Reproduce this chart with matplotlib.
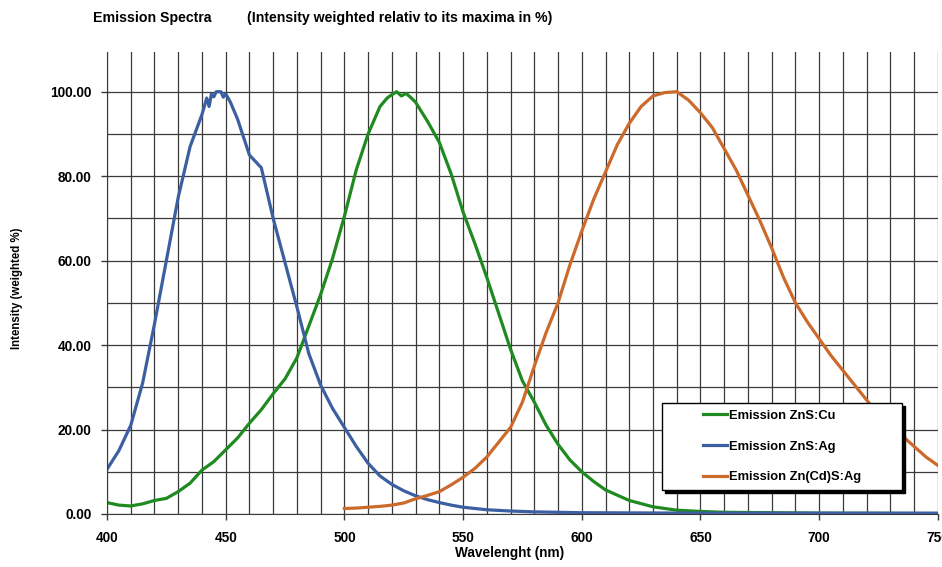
import matplotlib
matplotlib.use("Agg")
import matplotlib.pyplot as plt
from matplotlib.patches import Rectangle
from matplotlib.ticker import MultipleLocator, FormatStrFormatter

plt.rcParams["font.family"] = ["Liberation Sans", "DejaVu Sans"]
plt.rcParams["font.weight"] = "bold"

# ZnS:Cu (green)
wl_cu = [400, 405, 410, 415, 420, 425, 430, 435, 440, 445, 450, 455, 460, 465,
         470, 475, 480, 485, 490, 495, 500, 505, 510, 515, 518, 520, 522, 524,
         526, 528, 530, 535, 540, 545, 550, 555, 560, 565, 570, 575, 580, 585,
         590, 595, 600, 605, 610, 620, 630, 640, 650, 660, 680, 700, 750]
int_cu = [2.7, 2.1, 1.9, 2.4, 3.2, 3.7, 5.3, 7.3, 10.4, 12.4, 15.2, 18.0, 21.5, 24.7,
          28.5, 32.0, 37.0, 44.5, 52.0, 60.5, 70.5, 81.5, 90.0, 96.5, 98.5, 99.3, 100.0, 99.0,
          99.6, 98.6, 97.5, 93.0, 88.0, 80.5, 71.5, 64.0, 56.0, 47.5, 39.0, 31.5, 26.5, 21.0,
          16.5, 12.8, 10.0, 7.7, 5.7, 3.2, 1.7, 0.9, 0.6, 0.4, 0.3, 0.2, 0.1]

# ZnS:Ag (blue)
wl_ag = [400, 405, 410, 415, 420, 425, 430, 435, 440, 442, 443, 444, 445, 446,
         448, 449, 450, 452, 455, 460, 465, 470, 475, 480, 485, 490, 495, 500,
         505, 510, 515, 520, 525, 530, 535, 540, 545, 550, 560, 570, 580, 600,
         650, 700, 750]
int_ag = [10.6, 15.0, 21.0, 31.0, 45.0, 60.0, 75.0, 87.0, 94.6, 98.5, 96.5, 99.5, 98.8, 100.0,
          100.0, 98.7, 99.5, 97.5, 93.5, 85.0, 82.0, 70.0, 59.5, 49.0, 38.0, 30.5, 25.0, 20.5,
          16.0, 12.0, 9.0, 7.0, 5.5, 4.3, 3.4, 2.7, 2.1, 1.6, 1.0, 0.7, 0.5, 0.3,
          0.2, 0.2, 0.2]

# Zn(Cd)S:Ag (orange)
wl_cd = [500, 505, 510, 515, 520, 525, 530, 535, 540, 545, 550, 555, 560, 565,
         570, 575, 580, 585, 590, 595, 600, 605, 610, 615, 620, 625, 630, 635,
         640, 645, 650, 655, 660, 665, 670, 675, 680, 685, 690, 695, 700, 705,
         710, 715, 720, 725, 730, 735, 740, 745, 750]
int_cd = [1.3, 1.4, 1.6, 1.8, 2.1, 2.6, 3.6, 4.4, 5.3, 6.9, 8.7, 10.8, 13.5, 17.0,
          20.5, 26.5, 35.0, 43.0, 50.0, 59.0, 67.0, 74.5, 81.0, 87.5, 92.5, 96.5, 99.0, 99.8,
          100.0, 98.0, 95.0, 91.5, 86.5, 81.5, 75.5, 69.5, 63.0, 56.0, 50.0, 45.5, 41.5, 37.5,
          34.0, 30.5, 27.0, 23.5, 21.0, 18.5, 16.0, 13.5, 11.5]

labels = ["Emission ZnS:Cu", "Emission ZnS:Ag", "Emission Zn(Cd)S:Ag"]
colors = ["#1f8a1f", "#3c5fa2", "#cc6a2c"]

fig = plt.figure(figsize=(9.42, 5.67), dpi=100)
ax = fig.add_axes([0.1136, 0.0935, 0.882, 0.814])

ax.plot(wl_cu, int_cu, color=colors[0], lw=2.3, label=labels[0])
ax.plot(wl_ag, int_ag, color=colors[1], lw=2.3, label=labels[1])
ax.plot(wl_cd, int_cd, color=colors[2], lw=2.3, label=labels[2])

ax.set_xlim(400, 750)
ax.set_ylim(0, 109.3)
ax.xaxis.set_major_locator(MultipleLocator(50))
ax.xaxis.set_minor_locator(MultipleLocator(10))
ax.yaxis.set_major_locator(MultipleLocator(20))
ax.yaxis.set_minor_locator(MultipleLocator(10))
ax.yaxis.set_major_formatter(FormatStrFormatter("%.2f"))
ax.grid(True, which="both", color="#3a3a3a", lw=0.9)
ax.set_axisbelow(True)
ax.tick_params(axis="both", which="major", labelsize=9.8, length=4, width=1, color="#3a3a3a")
ax.tick_params(axis="y", pad=7)
ax.tick_params(axis="x", pad=8)
ax.tick_params(which="minor", length=0)
for s in ["top", "right"]:
    ax.spines[s].set_visible(False)
for s in ["left", "bottom"]:
    ax.spines[s].set_color("#3a3a3a")

fig.text(0.0987, 0.968, "Emission Spectra", fontsize=10.2, va="center")
fig.text(0.262, 0.968, "(Intensity weighted relativ to its maxima in %)", fontsize=10.2, va="center")
fig.text(0.541, 0.025, "Wavelenght (nm)", fontsize=9.8, ha="center", va="center")
fig.text(0.018, 0.492, "Intensity (weighted %)", fontsize=8.3, rotation=90, ha="center", va="center")

# legend box with hard shadow
bx, by, bw, bh = 0.7028, 0.1358, 0.2543, 0.1534
ax.add_patch(Rectangle((bx + 0.0032, by - 0.0053), bw, bh, transform=fig.transFigure,
                       facecolor="black", edgecolor="black", zorder=4, clip_on=False))
ax.add_patch(Rectangle((bx, by), bw, bh, transform=fig.transFigure,
                       facecolor="white", edgecolor="black", lw=1, zorder=4.1, clip_on=False))
ax.legend(loc="center", bbox_to_anchor=(bx + bw / 2, by + bh / 2), bbox_transform=fig.transFigure,
          frameon=False, fontsize=9.3, handlelength=1.85, handletextpad=0.15,
          labelspacing=1.45, borderpad=0)

fig.savefig("out.png", dpi=100)
